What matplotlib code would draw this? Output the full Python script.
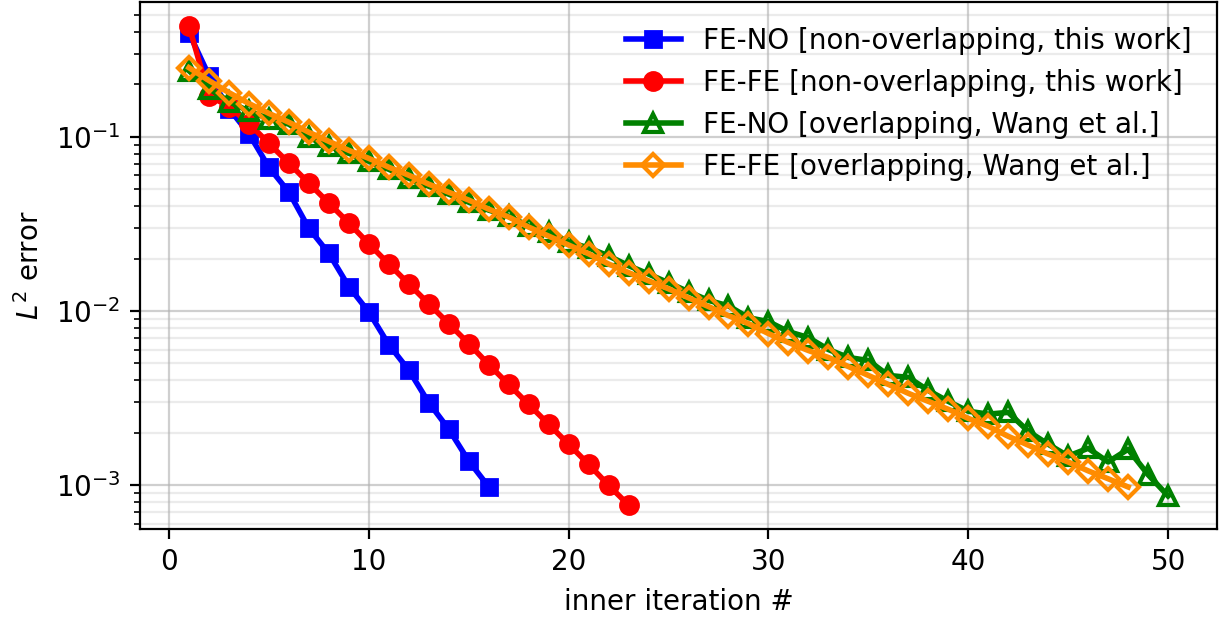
import numpy as np
import matplotlib
matplotlib.use("Agg")
import matplotlib.pyplot as plt

# L2 error per inner iteration
err_feno_nonov = [0.394, 0.224, 0.145, 0.104, 0.0668, 0.0481, 0.0298, 0.0214,
                  0.0138, 0.00987, 0.00641, 0.00458, 0.00298, 0.00210, 0.00138, 0.00098]

err_fefe_nonov = [0.432, 0.172, 0.149, 0.119, 0.0916, 0.0705, 0.0541, 0.0416,
                  0.0320, 0.0243, 0.0186, 0.0143, 0.0110, 0.00846, 0.00650, 0.00493,
                  0.00379, 0.00291, 0.00224, 0.00172, 0.00132, 0.00100, 0.00077]

err_feno_ov = [0.239, 0.189, 0.159, 0.140, 0.127, 0.118, 0.0991, 0.0880, 0.0803, 0.0723,
               0.0650, 0.0578, 0.0520, 0.0468, 0.0421, 0.0379, 0.0350, 0.0307, 0.0284, 0.0249,
               0.0230, 0.0207, 0.0182, 0.0163, 0.0145, 0.0129, 0.0115, 0.0107, 0.00915, 0.00869,
               0.00761, 0.00704, 0.00601, 0.00541, 0.00520, 0.00427, 0.00416, 0.00350, 0.00303, 0.00266,
               0.00256, 0.00262, 0.00204, 0.00172, 0.00147, 0.00163, 0.00136, 0.00161, 0.00115, 0.000869]

err_fefe_ov = [0.249, 0.210, 0.179, 0.155, 0.136, 0.121, 0.106, 0.0940, 0.0835, 0.0751,
               0.0668, 0.0601, 0.0534, 0.0480, 0.0433, 0.0384, 0.0346, 0.0303, 0.0269, 0.0239,
               0.0213, 0.0186, 0.0166, 0.0149, 0.0134, 0.0119, 0.0106, 0.00940, 0.00846, 0.00742,
               0.00659, 0.00593, 0.00541, 0.00480, 0.00427, 0.00379, 0.00337, 0.00303, 0.00273, 0.00242,
               0.00218, 0.00191, 0.00170, 0.00151, 0.00136, 0.00121, 0.00109, 0.000978]

labels = ["FE-NO [non-overlapping, this work]",
          "FE-FE [non-overlapping, this work]",
          "FE-NO [overlapping, Wang et al.]",
          "FE-FE [overlapping, Wang et al.]"]


def iters(e):
    return np.arange(1, len(e) + 1)


fig = plt.figure(figsize=(6.125, 3.085), dpi=200)
ax = fig.add_axes([0.1143, 0.1426, 0.8792, 0.8542])

ax.plot(iters(err_feno_nonov), err_feno_nonov, '-s', color='blue', lw=2, ms=6, label=labels[0])
ax.plot(iters(err_fefe_nonov), err_fefe_nonov, '-o', color='red', lw=2, ms=6.5, label=labels[1])
ax.plot(iters(err_feno_ov), err_feno_ov, '-^', color='green', lw=2, ms=6.5, mfc='none', mew=1.5,
        label=labels[2])
ax.plot(iters(err_fefe_ov), err_fefe_ov, '-D', color='darkorange', lw=2, ms=5.5, mfc='none', mew=1.5,
        label=labels[3])

ax.set_yscale('log')
ax.grid(True, which='major', color='#b0b0b0', alpha=0.6, lw=0.8)
ax.grid(True, which='minor', axis='y', color='#b0b0b0', alpha=0.25, lw=0.8)
ax.set_xlabel('inner iteration #')
ax.set_ylabel('$L^2$ error')
ax.legend(loc='upper right', frameon=False)

fig.savefig('out.png', dpi=200)
